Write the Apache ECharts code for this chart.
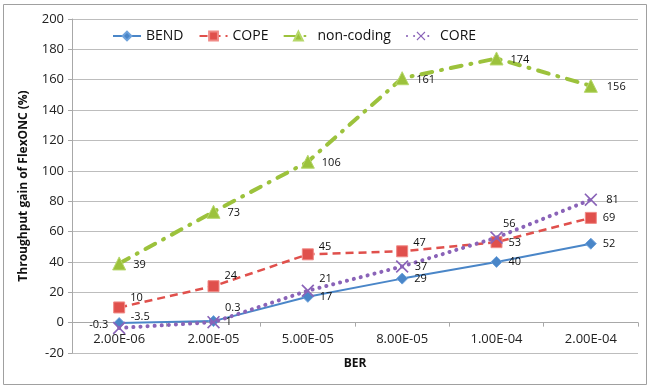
<!DOCTYPE html>
<html>
<head>
<meta charset="utf-8">
<script src="https://cdn.jsdelivr.net/npm/echarts@6/dist/echarts.min.js"></script>
<style>
  html, body { margin: 0; padding: 0; background: #fff; }
  #chart { width: 650px; height: 387px; }
</style>
</head>
<body>
<div id="chart"></div>
<script>
// Bit error rates on the x axis
const categories = ['2.00E-06', '2.00E-05', '5.00E-05', '8.00E-05', '1.00E-04', '2.00E-04'];

// Throughput gain of FlexONC (%) against each scheme
const bendValues      = [-0.3, 1, 17, 29, 40, 52];
const copeValues      = [10, 24, 45, 47, 53, 69];
const nonCodingValues = [39, 73, 106, 161, 174, 156];
const coreValues      = [-3.5, 0.3, 21, 37, 56, 81];

// Value-axis range and ticks
const yMin = -20, yMax = 200, yStep = 20;

// Where each point's value label sits: [position, dx, dy]
const bendLabelPlace = [['left', 0, 2], ['right', 1, 1], ['right', 1, 0], ['right', 1, 0], ['right', 1, 0], ['right', 1, 0]];
const copeLabelPlace = [['right', 0, -10], ['right', 0, -10], ['right', 0, -7], ['right', 0, -8], ['right', 1, 1], ['right', 1, 0]];
const nonCodingLabelPlace = [['right', 2, 1], ['right', 2, 1], ['right', 2, 1], ['right', 2, 2], ['right', 2, 1], ['right', 4, 1]];
const coreLabelPlace = [['right', 0, -11], ['right', 0, -14], ['right', 0, -12], ['right', 1, 0], ['right', -5, -14], ['right', 4, 0]];

const FONT = '"Open Sans", "Liberation Sans", sans-serif';

// Plot box
const GRID = { left: 72, right: 12, top: 19, bottom: 34 };
const plotHeight = 387 - GRID.top - GRID.bottom;
// Lift the category axis from the bottom edge up to the zero line
const zeroLift = plotHeight * (0 - yMin) / (yMax - yMin);

function withLabels(values, places) {
  return values.map((v, i) => ({
    value: v,
    label: {
      position: places[i][0],
      offset: [places[i][1], places[i][2]]
    }
  }));
}

// Thin "x" cross marker
const xMark = 'path://M0,0.9 L0.9,0 L5,4.1 L9.1,0 L10,0.9 L5.9,5 L10,9.1 L9.1,10 L5,5.9 L0.9,10 L0,9.1 L4.1,5 Z';

const labelStyle = {
  show: true,
  color: '#111',
  fontSize: 11,
  fontFamily: FONT,
  distance: 5
};

const chart = echarts.init(document.getElementById('chart'), null, { renderer: 'canvas' });

chart.setOption({
  animation: false,
  backgroundColor: '#fff',
  graphic: [{
    type: 'rect',
    shape: { x: 3.5, y: 4.5, width: 643, height: 380 },
    style: { fill: 'none', stroke: '#a0a0a0', lineWidth: 1 },
    z: -10
  }],
  grid: Object.assign({ outerBoundsMode: 'none', containLabel: false }, GRID),
  legend: {
    top: 24,
    left: 107,
    itemWidth: 28,
    itemHeight: 11,
    itemGap: 15,
    textStyle: { fontSize: 14, fontFamily: FONT, color: '#111' },
    data: ['BEND', 'COPE', 'non-coding', 'CORE']
  },
  xAxis: {
    type: 'category',
    data: categories,
    boundaryGap: true,
    position: 'bottom',
    offset: -zeroLift,
    name: 'BER',
    nameLocation: 'middle',
    nameGap: 35,
    nameTextStyle: { fontWeight: 'bold', fontSize: 12, fontFamily: FONT, color: '#111' },
    axisLine: { onZero: false, lineStyle: { color: '#a8a8a8', width: 1 } },
    axisTick: { show: true, length: 4, lineStyle: { color: '#a8a8a8' } },
    axisLabel: { fontSize: 13, fontFamily: FONT, color: '#222', margin: 10 },
    splitLine: { show: false }
  },
  yAxis: {
    type: 'value',
    min: yMin,
    max: yMax,
    interval: yStep,
    name: 'Throughput gain of FlexONC (%)',
    nameLocation: 'middle',
    nameGap: 42,
    nameTextStyle: { fontWeight: 'bold', fontSize: 12, fontFamily: FONT, color: '#111' },
    axisLine: { show: true, lineStyle: { color: '#a8a8a8', width: 1 } },
    axisTick: { show: true, length: 4, lineStyle: { color: '#a8a8a8' } },
    axisLabel: { fontSize: 13, fontFamily: FONT, color: '#222', margin: 8 },
    splitLine: { show: true, lineStyle: { color: '#bdbdbd', width: 1 } }
  },
  series: [
    {
      name: 'BEND',
      type: 'line',
      data: withLabels(bendValues, bendLabelPlace),
      symbol: 'diamond',
      symbolSize: 11,
      color: '#4a86c8',
      itemStyle: { color: '#4a86c8', borderColor: '#6fa3dc', borderWidth: 1 },
      lineStyle: { color: '#4a86c8', width: 2 },
      label: labelStyle,
      z: 4
    },
    {
      name: 'COPE',
      type: 'line',
      data: withLabels(copeValues, copeLabelPlace),
      symbol: 'rect',
      symbolSize: 11,
      color: '#e0504c',
      itemStyle: { color: '#e0504c', borderColor: '#f08a86', borderWidth: 1 },
      lineStyle: { color: '#e0504c', width: 2.5, type: [8, 5] },
      label: labelStyle,
      z: 3
    },
    {
      name: 'non-coding',
      type: 'line',
      data: withLabels(nonCodingValues, nonCodingLabelPlace),
      symbol: 'triangle',
      symbolSize: 13,
      color: '#9cc23c',
      itemStyle: { color: '#9cc23c', borderColor: '#b6d86a', borderWidth: 1 },
      lineStyle: { color: '#9cc23c', width: 4, type: [11, 9, 1, 9], cap: 'round' },
      label: labelStyle,
      z: 2
    },
    {
      name: 'CORE',
      type: 'line',
      data: withLabels(coreValues, coreLabelPlace),
      symbol: xMark,
      symbolSize: 13,
      color: '#8a63b8',
      itemStyle: { color: '#8a63b8' },
      lineStyle: { color: '#8a63b8', width: 4, type: [0.1, 7], cap: 'round' },
      label: labelStyle,
      z: 5
    }
  ]
});
</script>
</body>
</html>
